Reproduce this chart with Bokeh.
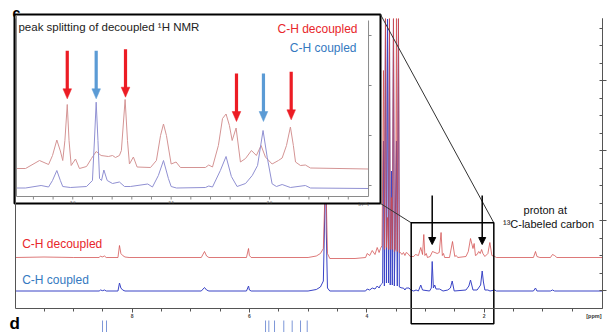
from bokeh.plotting import figure
from bokeh.models import Range1d, LinearAxis, FixedTicker, Arrow, NormalHead
from bokeh.core.properties import value
from bokeh.embed import file_html
from bokeh.resources import INLINE

FONT = value("Liberation Sans")

# ---------------- main 1H spectrum: chemical shift (ppm) and intensity above each baseline
dec_ppm = [9.99, 9.50, 9.00, 8.56, 8.537, 8.51, 8.469, 8.44, 8.24, 8.214, 8.19, 8.16, 8.12, 8.05,
           6.82, 6.765, 6.73, 6.69, 6.05, 6.015, 6.00, 5.97,
           5.00, 4.86, 4.79, 4.74, 4.715, 4.703, 4.69, 4.67, 4.63, 4.20, 4.02,
           3.993, 3.95, 3.907, 3.86, 3.822, 3.79, 3.766, 3.74,
           3.715, 3.70, 3.681, 3.665, 3.647, 3.63, 3.613, 3.60, 3.579, 3.565, 3.545, 3.53, 3.51, 3.494, 3.48, 3.46, 3.445,
           3.426, 3.40, 3.375, 3.35, 3.328, 3.30, 3.26, 3.20, 3.17, 3.12, 3.08, 3.05, 3.028, 3.01, 2.986, 2.966,
           2.92, 2.88, 2.80, 2.765, 2.734, 2.712, 2.692, 2.673, 2.59, 2.539, 2.50, 2.475, 2.45,
           2.31, 2.27, 2.232, 2.19, 2.170, 2.148, 2.12, 2.092, 2.067, 2.043, 2.021, 1.987, 1.936, 1.903, 1.868, 1.82, 1.79,
           1.16, 1.125, 1.10, 1.05, 0.87, 0.835, 0.80, 0.76, -0.017]
dec_int = [0, 0.5, 0, 0, 1.5, 0.5, 1.5, 0, 0, 12, 4, 2, 0.5, 0,
           0, 6, 1.5, 0, 0, 9, 2, 0,
           0, 1.5, 4, 9, 60, 239, 60, 4, -1, -1, 0,
           4, 2, 7, 3, 10, 5, 9, 12,
           187, 8, 239, 10, 40, 8, 239, 8, 60, 8, 239, 6, 8, 239, 6, 239, 5,
           5, 3, 5, 2, 5, 4, 1, 1, 3, 2, 10, 3, 23, 2, 4, 0,
           1, 6, 4, 5, 25, 2, 4, 0, 0, 16, 1, 2, 0,
           1, 6, 19, 9, 14, 2, 3, 6, 4, 8, 4, 1, 4, 15, 2, 1, 0,
           0, 6, 1, 0, 0, 3, 2, 0, 0]

cpl_ppm = [9.99, 8.56, 8.537, 8.50, 8.469, 8.44, 8.24, 8.214, 8.19, 8.16, 8.12,
           6.82, 6.765, 6.73, 6.69, 6.05, 6.015, 6.00, 5.97,
           5.00, 4.86, 4.79, 4.74, 4.715, 4.703, 4.69, 4.67, 4.63, 4.02,
           3.993, 3.95, 3.907, 3.86, 3.822, 3.79, 3.766, 3.73,
           3.715, 3.70, 3.681, 3.665, 3.647, 3.63, 3.613, 3.60, 3.579, 3.565, 3.545, 3.53, 3.494, 3.48, 3.46, 3.445,
           3.40, 3.375, 3.35, 3.328, 3.28, 3.25, 3.20, 3.16, 3.12, 3.08, 3.05, 2.93, 2.90, 2.885, 2.865, 2.842, 2.82, 2.76, 2.70,
           2.62, 2.575, 2.544, 2.51, 2.31, 2.26, 2.232, 2.19, 2.12, 2.06, 2.033, 2.012, 1.987, 1.936, 1.90, 1.82, 1.79,
           1.16, 1.125, 1.10, 0.87, 0.835, 0.80, -0.017]
cpl_int = [0, 0, 1, 0.3, 1, 0, 0, 8, 3, 1, 0,
           0, 3.5, 1, 0, 0, 5, 1, 0,
           0, 1.5, 4, 10, 80, 272, 60, 3, 0, 0,
           2, 1, 3, 2, 5, 3, 6, 8,
           150, 5, 272, 8, 272, 8, 272, 6, 120, 6, 272, 5, 150, 5, 272, 4,
           3, 3, 1, 3, 3, 1, 0, 1, 0, 6, 1, 0, 3, 29.5, 3, 6, 2, 2, 0,
           1, 3, 10, 0, 1, 5, 11, 1, 1, 6, 20, 9, 1, 1, 0, 1, 0,
           0, 3, 0, 0, 1, 0, 0]

# ---------------- inset (3.3 - 1.5 ppm) -----------------------------------------------
ins_dec_ppm = [3.286, 3.240, 3.169, 3.123, 3.103, 3.081, 3.063, 3.051, 3.040, 3.028, 3.019, 3.008,
               2.986, 2.966, 2.930, 2.905, 2.881, 2.856, 2.819, 2.798, 2.783, 2.763, 2.753, 2.734,
               2.722, 2.712, 2.692, 2.673, 2.605, 2.575, 2.554, 2.539, 2.524, 2.500, 2.475, 2.453,
               2.326, 2.309, 2.290, 2.260, 2.239, 2.221, 2.204, 2.190, 2.170, 2.148, 2.122, 2.092,
               2.067, 2.043, 2.021, 1.987, 1.955, 1.936, 1.914, 1.894, 1.879, 1.868, 1.843, 1.818,
               1.792, 1.497]
ins_dec_int = [-0.5, -0.5, 7.5, 3.5, 12.5, 28, 17, 7.5, 27.5, 63.5, 27.5, 2.5,
               9, -0.5, 1.5, 9.5, 16.5, 12.5, 11.5, 12.5, 10.5, 12.5, 17.5, 68.5,
               27.5, 4, 11, 1, 0.5, 7.5, 32.5, 44, 32.5, 4, 6, 0.5,
               0.5, 3, 1, 22.5, 49.5, 54, 42.5, 27.5, 40, 6, 9.5, 17.5,
               12.5, 22.5, 11, 4, 7.5, 10, 22.5, 41, 22.5, 6, 2.5, 3,
               0, -1]
ins_cpl_ppm = [3.286, 3.240, 3.161, 3.123, 3.103, 3.081, 3.063, 3.051, 3.012, 2.930, 2.900, 2.890,
               2.881, 2.872, 2.864, 2.854, 2.842, 2.825, 2.798, 2.763, 2.737, 2.707, 2.619, 2.595,
               2.565, 2.539, 2.514, 2.500, 2.473, 2.326, 2.309, 2.290, 2.250, 2.221, 2.194, 2.165,
               2.122, 2.088, 2.061, 2.033, 2.012, 1.987, 1.965, 1.936, 1.894, 1.818, 1.792, 1.497]
ins_cpl_int = [0, 0, 2.5, 1, 7.5, 17.5, 7.5, 1.5, 0.5, 1.5, 7.5, 47,
               85.8, 47.5, 9.5, 7.5, 18, 7.5, 4.5, 6, 1.5, 1.5, 4, 1,
               12.5, 27.5, 9.5, 1.5, 0, 0.5, 2, 1, 17.5, 31.5, 11.5, 1.5,
               4.5, 12.5, 22.5, 57.5, 30.8, 4.2, 1.5, 3.5, 0.5, 2.5, 0, -0.5]

# arrows marking the split peaks in the inset (ppm, tip height)
red_arrow_ppm = [3.028, 2.732, 2.168, 1.890]
red_arrow_tip = [97.7, 99.3, 75.0, 76.7]
blue_arrow_ppm = [2.881, 2.031]
blue_arrow_tip = [97.7, 75.0]
# arrows marking protons at the 13C-labelled carbon (main spectrum)
carbon_arrow_ppm = [2.885, 2.033]
# top of the stick spectrum of the next panel (d), peeking in at the bottom
d_stick_ppm = [8.503, 8.435, 5.725, 5.669, 5.572, 5.414, 5.271, 5.129, 5.015]

# ticks
x_major = [8, 6, 4, 2]
x_minor = [9.5, 9.0, 8.5, 7.5, 7.0, 6.5, 5.5, 5.0, 4.5, 3.5, 3.0, 2.5, 1.5, 1.0, 0.5]
y_major = [18, 88, 158, 228]
y_minor = [35.5, 53, 70.5, 105.5, 123, 140.5, 175.5, 193, 210.5, 245.5, 263, 280.5]
ins_x_major = [3.0, 2.5, 2.0]
ins_x_labels = ["3.0", "2.5", "2.0"]
ins_x_minor = [3.2, 3.1, 2.9, 2.8, 2.7, 2.6, 2.4, 2.3, 2.2, 2.1, 1.9, 1.8, 1.7, 1.6]
ins_y_major = [11, 61, 111, 161]

# ---------------- layout constants ----------------------------------------------------
X_LEFT, X_RIGHT = 9.986, -0.017       # spectral window of panel c
DEC_OFF, CPL_OFF = 51, 17.5           # baselines of the two main traces
INS_DEC_OFF, INS_CPL_OFF = 28.5, 8.5  # baselines of the two inset traces
INS_X0, INS_X1 = 3.286, 1.497         # inset ppm window
INS_PX_PER_PPM = 352 / (INS_X0 - INS_X1)

MAIN_RED, MAIN_BLUE = "#d24c4c", "#3a44c6"
INS_RED, INS_BLUE = "#d49494", "#9090d2"
TXT_RED, TXT_BLUE = "#e8262b", "#3479bf"
ARR_RED, ARR_BLUE = "#ec1c24", "#5b9bd5"
AXIS = "#555555"

p = figure(width=610, height=332, x_range=Range1d(10.2415, -0.1533), y_range=Range1d(-24, 308),
           output_backend="svg", toolbar_location=None,
           x_axis_location=None, y_axis_location=None,
           min_border_left=0, min_border_right=0, min_border_top=0, min_border_bottom=0)
p.outline_line_color = None
p.xgrid.visible = False
p.ygrid.visible = False

xax = LinearAxis(ticker=FixedTicker(ticks=x_major, minor_ticks=x_minor), fixed_location=0,
                 bounds=(X_LEFT, X_RIGHT),
                 axis_line_color=AXIS, major_tick_line_color=AXIS, minor_tick_line_color=AXIS,
                 major_tick_in=0, major_tick_out=4, minor_tick_in=0, minor_tick_out=3,
                 major_label_text_font_size="5px", major_label_text_font_style="bold",
                 major_label_text_font="Liberation Sans", major_label_standoff=1)
p.add_layout(xax, "below")
lax = LinearAxis(ticker=FixedTicker(ticks=[], minor_ticks=[]), fixed_location=X_LEFT, bounds=(0, 290),
                 axis_line_color=AXIS, major_tick_in=0, major_tick_out=0, minor_tick_in=0, minor_tick_out=0)
p.add_layout(lax, "left")
rax_in = LinearAxis(ticker=FixedTicker(ticks=[], minor_ticks=y_major + y_minor), fixed_location=X_RIGHT,
                    bounds=(0, 290), axis_line_color=AXIS, minor_tick_line_color=AXIS,
                    minor_tick_in=3, minor_tick_out=0, major_tick_in=0, major_tick_out=0)
p.add_layout(rax_in, "right")
rax_out = LinearAxis(ticker=FixedTicker(ticks=[], minor_ticks=y_major), fixed_location=X_RIGHT,
                     bounds=(0, 290), axis_line_color=AXIS, minor_tick_line_color=AXIS,
                     minor_tick_in=0, minor_tick_out=4, major_tick_in=0, major_tick_out=0)
p.add_layout(rax_out, "right")

# next panel's sticks
p.segment(x0=d_stick_ppm, y0=-12, x1=d_stick_ppm, y1=-26, line_color="#7d97d8", line_width=1)

# main traces
p.line(cpl_ppm, [v + CPL_OFF for v in cpl_int], line_color=MAIN_BLUE, line_width=1, line_join="round")
p.line(dec_ppm, [v + DEC_OFF for v in dec_int], line_color=MAIN_RED, line_width=1, line_alpha=0.75,
       line_join="round")

p.text(x=[9.872], y=[64.7], text=["C-H decoupled"], text_color=TXT_RED, text_font=FONT,
       text_font_size="12px", text_baseline="middle", text_align="left")
p.text(x=[9.872], y=[28.7], text=["C-H coupled"], text_color=TXT_BLUE, text_font=FONT,
       text_font_size="12px", text_baseline="middle", text_align="left")
p.text(x=[0.959, 0.903], y=[99, 84.7], text=["proton at", "\u00b9\u00b3C-labeled carbon"],
       text_color="#111111", text_font=FONT, text_font_size="11px",
       text_baseline="middle", text_align="center")
p.text(x=[0.0], y=[-7.5], text=["[ppm]"], text_align="right", text_baseline="middle",
       text_font_size="5.5px", text_font_style="bold", text_font=FONT, text_color="#333333")
p.text(x=[10.037], y=[295.2], text=["c"], text_align="left", text_baseline="alphabetic",
       text_font_size="14px", text_font_style="bold", text_font=FONT, text_color="black")
p.text(x=[10.088], y=[-15], text=["d"], text_align="left", text_baseline="alphabetic",
       text_font_size="17px", text_font_style="bold", text_font=FONT, text_color="black")

# inset frame (white, covers the main traces)
p.quad(left=[10.003], right=[3.766], top=[294], bottom=[105], fill_color="white",
       line_color="black", line_width=2)

sub = p.subplot(x_source=Range1d(INS_X0, INS_X1), y_source=Range1d(0, 180),
                x_target=Range1d(9.969, 3.970), y_target=Range1d(112, 292))

sub.line(ins_dec_ppm, [v + INS_DEC_OFF for v in ins_dec_int], line_color=INS_RED, line_width=1,
         line_join="round")
sub.line(ins_cpl_ppm, [v + INS_CPL_OFF for v in ins_cpl_int], line_color=INS_BLUE, line_width=1,
         line_join="round")

# inset axes
GREY = "#8a8a8a"
tick_dx = 3 / INS_PX_PER_PPM
sub.segment(x0=[INS_X0, INS_X1, INS_X0], y0=[0, 0, 0], x1=[INS_X1, INS_X1, INS_X0], y1=[0, 176, 181],
            line_color=GREY, line_width=1)
sub.segment(x0=ins_x_major + ins_x_minor, y0=0, x1=ins_x_major + ins_x_minor, y1=-3,
            line_color=GREY, line_width=1)
sub.segment(x0=INS_X1, y0=ins_y_major, x1=INS_X1 - tick_dx, y1=ins_y_major, line_color=GREY, line_width=1)
sub.text(x=ins_x_major, y=-4, text=ins_x_labels, text_font=FONT, text_font_size="4px",
         text_align="center", text_baseline="top", text_color="#333333")
sub.text(x=[1.522], y=[-4], text=["[ppm]"], text_font=FONT, text_font_size="4px",
         text_align="center", text_baseline="top", text_color="#333333")

sub.text(x=[3.276], y=[170], text=["peak splitting of decoupled \u00b9H NMR"], text_font=FONT,
         text_font_size="11.5px", text_align="left", text_baseline="middle", text_color="#222222")
sub.text(x=[1.553], y=[167.7], text=["C-H decoupled"], text_font=FONT, text_font_size="12px",
         text_align="right", text_baseline="middle", text_color=TXT_RED)
sub.text(x=[1.558], y=[148.7], text=["C-H coupled"], text_font=FONT, text_font_size="12px",
         text_align="right", text_baseline="middle", text_color=TXT_BLUE)

ARROW_LEN, HEAD_L = 48, 10
HEAD_HW = 4.3 / INS_PX_PER_PPM
for xs_, tips, col in ((red_arrow_ppm, red_arrow_tip, ARR_RED), (blue_arrow_ppm, blue_arrow_tip, ARR_BLUE)):
    sub.segment(x0=xs_, y0=[t + ARROW_LEN for t in tips], x1=xs_, y1=[t + HEAD_L - 1 for t in tips],
                line_color=col, line_width=3.2)
    sub.patches(xs=[[x - HEAD_HW, x + HEAD_HW, x] for x in xs_],
                ys=[[t + HEAD_L, t + HEAD_L, t] for t in tips],
                fill_color=col, line_color=col, line_width=0.5)

# lines joining the inset to the zoomed region, and the zoom box
p.segment(x0=[3.766, 3.766], y0=[294, 105], x1=[1.835, 3.243], y1=[85.7, 85.7],
          line_color="#333333", line_width=1)
p.quad(left=[3.243], right=[1.835], top=[85.7], bottom=[-15.3], fill_alpha=0,
       line_color="black", line_width=1.5)

for x in carbon_arrow_ppm:
    p.add_layout(Arrow(end=NormalHead(size=7, fill_color="black", line_color="black", line_width=1),
                       x_start=x, y_start=113, x_end=x, y_end=64, line_width=1.5, line_color="black"))

open("out.html", "w").write(file_html(p, INLINE))
